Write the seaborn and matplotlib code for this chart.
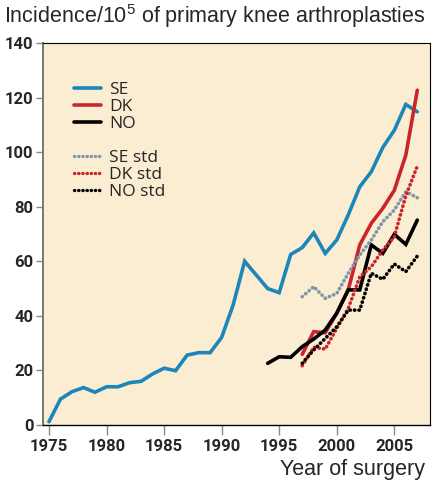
import numpy as np
import pandas as pd
import seaborn as sns
import matplotlib.pyplot as plt
from matplotlib.lines import Line2D
from matplotlib.font_manager import FontProperties

# values (incidence per 100 000)
years_se = list(range(1975, 2008))
se = [1.2, 9.5, 12.2, 13.7, 12.0, 14.0, 14.0, 15.5, 16.0, 18.7, 20.8, 19.9,
      25.6, 26.5, 26.5, 32.1, 44.0, 60.0, 55.0, 50.0, 48.5, 62.5, 65.0, 70.4,
      62.9, 67.8, 77.0, 87.3, 92.8, 101.7, 108.0, 117.5, 114.8]

years_no = list(range(1994, 2008))
no = [22.6, 25.0, 24.8, 28.7, 31.5, 34.8, 41.0, 49.5, 49.5, 66.0, 62.9, 69.9, 66.2, 75.1]

years_std = list(range(1997, 2008))
dk = [25.9, 34.2, 33.8, 40.9, 49.5, 66.0, 73.9, 79.4, 86.0, 98.9, 122.7]
se_std = [47.0, 50.7, 46.4, 48.2, 55.6, 62.3, 67.8, 74.5, 78.8, 85.5, 83.3]
dk_std = [21.7, 28.5, 27.8, 35.4, 42.7, 54.3, 58.0, 64.1, 69.0, 84.0, 94.9]
no_std = [22.6, 27.5, 31.7, 36.0, 42.1, 42.1, 55.6, 53.4, 59.0, 56.2, 61.9]

x_ticks = [1975, 1980, 1985, 1990, 1995, 2000, 2005]
y_ticks = [0, 20, 40, 60, 80, 100, 120, 140]

BLUE = "#1c86bb"
RED = "#c8262c"
GREY = "#7d97aa"
BG = "#fbedd2"

series = [
    ("SE", years_se, se, BLUE, "solid"),
    ("DK", years_std, dk, RED, "solid"),
    ("NO", years_no, no, "black", "solid"),
    ("SE std", years_std, se_std, GREY, "dot"),
    ("DK std", years_std, dk_std, RED, "dot"),
    ("NO std", years_std, no_std, "black", "dot"),
]

sns.set_style("ticks")
plt.rcParams['font.family'] = ['Liberation Sans', 'DejaVu Sans']
plt.rcParams['mathtext.fontset'] = 'custom'
plt.rcParams['mathtext.rm'] = 'Liberation Sans'

tick_font = FontProperties(family="Roboto", weight="bold", size=12)

fig = plt.figure(figsize=(4.33, 4.90), dpi=100)
ax = fig.add_axes([0.0993, 0.1327, 0.8937, 0.7795])
ax.set_facecolor(BG)

DOT = (0, (0.1, 1.15))
handles = []
for name, xs, ys, col, kind in series:
    df = pd.DataFrame({"Year": xs, "Incidence": ys})
    if kind == "solid":
        sns.lineplot(data=df, x="Year", y="Incidence", ax=ax, color=col,
                     linewidth=2.6, solid_joinstyle="miter")
        h = Line2D([], [], color=col, linewidth=2.6)
    else:
        sns.lineplot(data=df, x="Year", y="Incidence", ax=ax, color=col,
                     linewidth=2.6, linestyle=DOT, dash_capstyle="round")
        h = Line2D([], [], color=col, linewidth=2.4, linestyle=DOT,
                   dash_capstyle="round")
    handles.append((h, name))

# legend with a gap between the two groups
blank = Line2D([], [], color="none")
hs = [h for h, _ in handles[:3]] + [blank] + [h for h, _ in handles[3:]]
ls = [n for _, n in handles[:3]] + [""] + [n for _, n in handles[3:]]
leg = ax.legend(hs, ls, loc="upper left", bbox_to_anchor=(0.04, 0.94),
                frameon=False, handlelength=1.55, handletextpad=0.45,
                labelspacing=0.05, prop={"family": "Open Sans", "size": 12.5})

ax.set_xlim(1974.48, 2008.1)
ax.set_ylim(0, 140)
ax.set_xticks(x_ticks)
ax.set_xticklabels([str(v) for v in x_ticks], fontproperties=tick_font)
ax.set_yticks(y_ticks)
ax.set_yticklabels([str(v) for v in y_ticks], fontproperties=tick_font)
ax.tick_params(axis="y", length=5, width=1, color="#888888", pad=2)
ax.tick_params(axis="x", length=7, width=1, color="#888888", pad=3)
ax.set_xlabel("")
ax.set_ylabel("")
for s in ["top", "right"]:
    ax.spines[s].set_color("black")
    ax.spines[s].set_linewidth(0.8)
ax.spines["left"].set_color("#777777")
ax.spines["left"].set_linewidth(1.4)
ax.spines["bottom"].set_color("black")
ax.spines["bottom"].set_linewidth(1.0)

fig.text(0.010, 0.968, "Incidence/10$^{5}$ of primary knee arthroplasties",
         fontsize=15.5, ha="left", va="center")
fig.text(0.982, 0.041, "Year of surgery", fontsize=15.5, ha="right", va="center")

fig.savefig("out.png", dpi=100, facecolor="white")
